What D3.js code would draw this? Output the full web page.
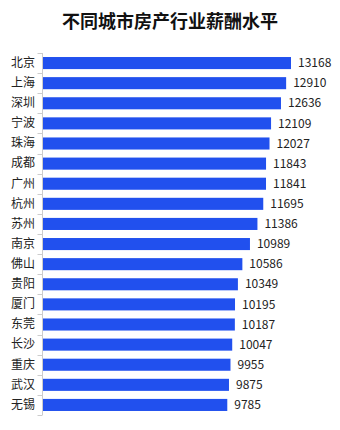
<!DOCTYPE html>
<html>
<head>
<meta charset="utf-8">
<script src="https://cdn.jsdelivr.net/npm/d3@7/dist/d3.min.js"></script>
<style>
  html, body { margin: 0; padding: 0; background: #fff; }
  svg { display: block; }
  text { font-family: "Noto Sans CJK SC", "Noto Sans", sans-serif; }
</style>
</head>
<body>
<svg id="chart" width="340" height="430"></svg>
<script>
const title = "不同城市房产行业薪酬水平";
const cities = ["北京","上海","深圳","宁波","珠海","成都","广州","杭州","苏州","南京","佛山","贵阳","厦门","东莞","长沙","重庆","武汉","无锡"];
const salaries = [13168,12910,12636,12109,12027,11843,11841,11695,11386,10989,10586,10349,10195,10187,10047,9955,9875,9785];

(function () {
const svg = d3.select("#chart");
const axisX = 42.5, plotTop = 53, plotBottom = 415;
const x = d3.scaleLinear().domain([0, 13168]).range([43, 291]);
const y = d3.scaleBand().domain(cities).range([plotTop, plotBottom]).paddingInner(0.4).paddingOuter(0.2);

svg.append("text")
  .attr("x", 170).attr("y", 28)
  .attr("text-anchor", "middle")
  .attr("font-size", 18).attr("font-weight", "bold")
  .attr("fill", "#111")
  .text(title);

// axis line and boundary ticks
const g = svg.append("g");
g.append("line")
  .attr("x1", axisX).attr("x2", axisX)
  .attr("y1", plotTop).attr("y2", plotBottom)
  .attr("stroke", "#ccc").attr("stroke-width", 1);
const boundaryYs = d3.range(cities.length + 1).map(i => plotTop + i * y.step());
g.selectAll("line.tick").data(boundaryYs).enter().append("line")
  .attr("class", "tick")
  .attr("x1", axisX - 5).attr("x2", axisX)
  .attr("y1", d => Math.round(d) + 0.5).attr("y2", d => Math.round(d) + 0.5)
  .attr("stroke", "#ccc").attr("stroke-width", 1);

// category labels via axis
const axis = d3.axisLeft(y).tickSize(0).tickPadding(0);
const ag = svg.append("g").attr("transform", "translate(35,0)").call(axis);
ag.select(".domain").remove();
ag.selectAll("text").attr("font-size", 12).attr("fill", "#222")
  .style("font-family", '"Noto Sans CJK SC", sans-serif');

// bars
const data = cities.map((c, i) => ({city: c, value: salaries[i]}));
svg.selectAll("rect.bar").data(data).enter().append("rect")
  .attr("class", "bar")
  .attr("x", x(0))
  .attr("y", d => y(d.city))
  .attr("width", d => x(d.value) - x(0))
  .attr("height", y.bandwidth())
  .attr("fill", "#2150ee");

svg.selectAll("text.val").data(data).enter().append("text")
  .attr("class", "val")
  .attr("x", d => x(d.value) + 7)
  .attr("y", d => y(d.city) + y.bandwidth() / 2)
  .attr("dy", "0.35em")
  .attr("font-size", 12)
  .attr("fill", "#222")
  .text(d => d.value);
})();
</script>
</body>
</html>
